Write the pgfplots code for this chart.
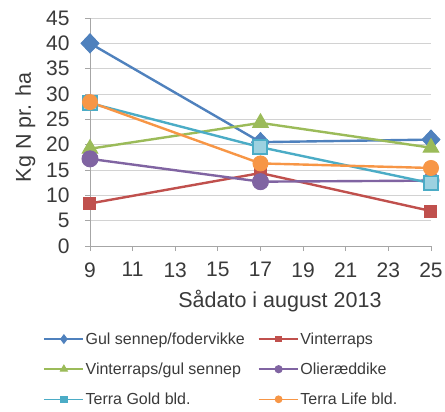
\documentclass[border=0pt]{standalone}
\usepackage{pgfplots}
\pgfplotsset{compat=1.18}
\usepackage{fontspec}
\setmainfont{Liberation Sans}
\definecolor{cblue}{HTML}{4F81BD}
\definecolor{cred}{HTML}{C0504D}
\definecolor{cgreen}{HTML}{9BBB59}
\definecolor{cpurple}{HTML}{8064A2}
\definecolor{caqua}{HTML}{4BACC6}
\definecolor{corange}{HTML}{F79646}
\definecolor{ctext}{HTML}{3A3A3A}
\begin{document}
\begin{tikzpicture}
\useasboundingbox (-90pt,-166pt) rectangle (355pt,246pt);
\begin{axis}[
  at={(0,0)}, anchor=south west,
  scale only axis,
  width=341pt, height=228pt,
  xmin=9, xmax=25, ymin=0, ymax=45,
  xtick={9,11,...,25}, ytick={0,5,...,45},
  axis x line*=bottom, axis y line*=left,
  axis line style={gray!70, line width=0.9pt},
  tick style={gray!70, line width=0.9pt},
  major tick length=5pt,
  tick align=outside,
  xtick pos=bottom, ytick pos=left,
  ymajorgrids, grid style={gray!35, line width=0.9pt},
  tick label style={font=\fontsize{21}{21}\selectfont, text=ctext},
  xticklabel style={yshift=-8pt},
  yticklabel style={xshift=-12pt},
  /pgf/number format/assume math mode=true,
  xlabel={Sådato i august 2013},
  ylabel={Kg N pr. ha},
  label style={font=\fontsize{21.5}{21.5}\selectfont, text=ctext},
  xlabel style={at={(axis description cs:0.557,-0.24)}, anchor=center},
  ylabel style={at={(axis description cs:-0.19,0.52)}, anchor=center, rotate=0},
  legend columns=2,
  legend cell align=left,
  legend style={draw=none, fill=none, at={(-0.138,-0.37)}, anchor=north west,
    font=\fontsize{16}{16}\selectfont, text=ctext,
    nodes={inner xsep=1pt},
    /tikz/every odd column/.append style={column sep=1pt},
    /tikz/every even column/.append style={column sep=12pt},
    row sep=13pt, inner sep=0pt},
  legend image code/.code={\draw[#1, line width=1.5pt] (0pt,0pt) -- (20pt,0pt) -- (39pt,0pt); \draw[#1, line width=1pt, mark options={scale=0.45}] plot coordinates {(20pt,0pt)};},
  every axis plot/.append style={line width=2.4pt},
]
\addplot[cblue, mark=diamond*, mark size=9.5pt, mark options={fill=cblue, line width=1pt, xscale=1.25}] coordinates {(9,40) (17,20.5) (25,21)};
\addlegendentry{Gul sennep/fodervikke}
\addplot[cred, mark=square*, mark size=6pt, mark options={fill=cred, line width=1pt}] coordinates {(9,8.4) (17,14.4) (25,6.9)};
\addlegendentry{Vinterraps}
\addplot[cgreen, mark=triangle*, mark size=9pt, mark options={fill=cgreen, line width=1pt}] coordinates {(9,19.2) (17,24.3) (25,19.4)};
\addlegendentry{Vinterraps/gul sennep}
\addplot[cpurple, mark=*, mark size=8pt, mark options={fill=cpurple, line width=1pt}] coordinates {(9,17.2) (17,12.7) (25,12.9)};
\addlegendentry{Olieræddike}
\addplot[caqua, mark=square*, mark size=7pt, mark options={fill=caqua!55, draw=caqua, line width=2pt}] coordinates {(9,28.2) (17,19.5) (25,12.4)};
\addlegendentry{Terra Gold bld.}
\addplot[corange, mark=*, mark size=7.5pt, mark options={fill=corange, line width=1pt}] coordinates {(9,28.4) (17,16.3) (25,15.4)};
\addlegendentry{Terra Life bld.}
\end{axis}
\end{tikzpicture}
\end{document}
